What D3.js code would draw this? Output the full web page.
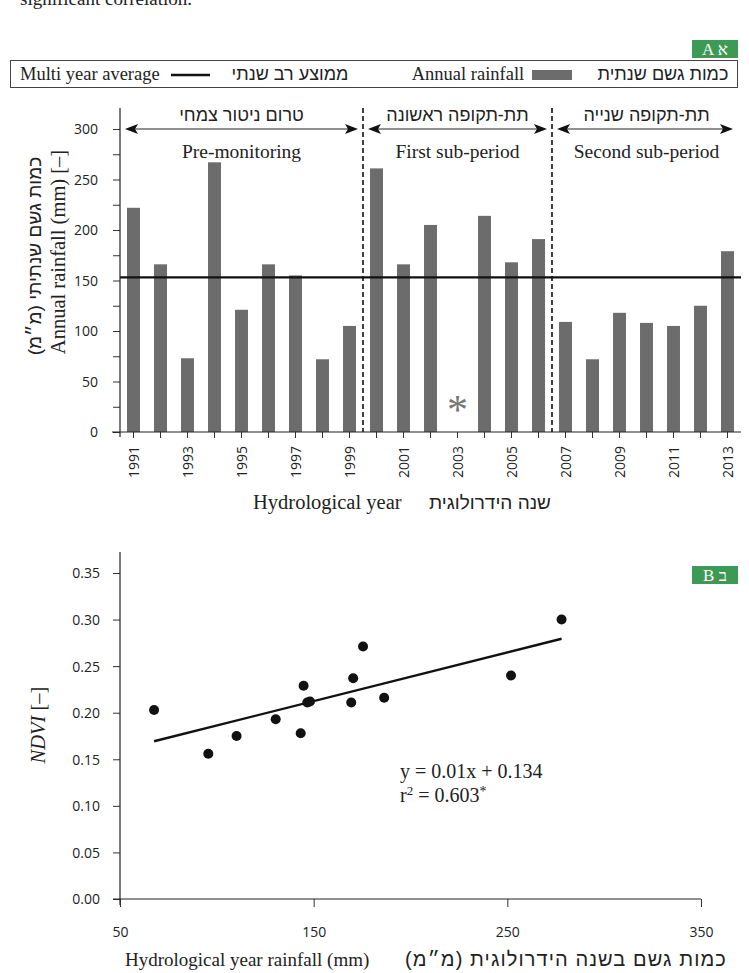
<!DOCTYPE html>
<html>
<head>
<meta charset="utf-8">
<script src="https://cdn.jsdelivr.net/npm/d3@7"></script>
<style>
body { margin: 0; background: #fff; }
svg { display: block; }
.serif { font-family: "Liberation Serif", "DejaVu Serif", serif; fill: #222; }
.heb { font-family: "Liberation Sans", "DejaVu Sans", sans-serif; fill: #222; direction: rtl; }
.tick-label { font-family: "Open Sans", "DejaVu Sans", sans-serif; font-size: 14px; fill: #222; }
</style>
</head>
<body>
<svg id="chart" width="749" height="973"></svg>
<script>
// panel A data
var years = [1991, 1992, 1993, 1994, 1995, 1996, 1997, 1998, 1999, 2000, 2001, 2002,
  2003, 2004, 2005, 2006, 2007, 2008, 2009, 2010, 2011, 2012, 2013];
var rainfall = [222, 166, 73, 267, 121, 166, 155, 72, 105, 261, 166, 205,
  null, 214, 168, 191, 109, 72, 118, 108, 105, 125, 179];
var multiYearAverage = 153;
var yearLabels = [1991, 1993, 1995, 1997, 1999, 2001, 2003, 2005, 2007, 2009, 2011, 2013];
var periodHe = ['טרום ניטור צמחי', 'תת-תקופה ראשונה', 'תת-תקופה שנייה'];
var periodEn = ['Pre-monitoring', 'First sub-period', 'Second sub-period'];
var periodStart = [1991, 2000, 2007];
var periodEnd = [1999, 2006, 2013];

// panel B data
var yearRain = [67.6, 95.6, 110.2, 130.4, 143.3, 144.8, 146.7, 148.1, 169.4, 170.4, 175.5, 186.4, 251.9, 278];
var ndvi = [0.203, 0.156, 0.175, 0.193, 0.178, 0.229, 0.211, 0.212, 0.211, 0.237, 0.271, 0.216, 0.240, 0.300];
var trendSlope = 0.000523, trendIntercept = 0.134;
var rainAxisTicks = [50, 150, 250, 350];
var ndviTicks = [0, 0.05, 0.10, 0.15, 0.20, 0.25, 0.30, 0.35];

var svg = d3.select('#chart');
var barColor = '#6c6c6c', badgeColor = '#3d9a55';

// caption tail cut off at the top
svg.append('text').attr('class', 'serif').attr('x', 20).attr('y', 5)
  .style('font-size', '19px').text('significant correlation.');

var badge = function(y, txt){
  svg.append('rect').attr('x', 692).attr('y', y).attr('width', 46).attr('height', 18).attr('fill', badgeColor);
  svg.append('text').attr('x', 715).attr('y', y + 14.5).attr('text-anchor', 'middle')
    .style('font-family', '"Liberation Serif", serif').style('font-size', '17px').attr('fill', '#fff')
    .text(txt);
};
badge(40, 'A  א');
badge(566, 'B  ב');

// legend
var lg = svg.append('g');
lg.append('rect').attr('x', 10.5).attr('y', 60.5).attr('width', 727).attr('height', 27)
  .attr('fill', 'none').attr('stroke', '#444').attr('stroke-width', 1);
lg.append('text').attr('class', 'serif').attr('x', 20).attr('y', 80).style('font-size', '18.5px').text('Multi year average');
lg.append('line').attr('x1', 171).attr('x2', 210).attr('y1', 75).attr('y2', 75).attr('stroke', '#111').attr('stroke-width', 2.5);
lg.append('text').attr('class', 'heb').attr('x', 290).attr('y', 80).attr('text-anchor', 'middle').style('font-size', '18px').text('ממוצע רב שנתי');
lg.append('text').attr('class', 'serif').attr('x', 468).attr('y', 80).attr('text-anchor', 'middle').style('font-size', '18.5px').text('Annual rainfall');
lg.append('rect').attr('x', 532).attr('y', 70).attr('width', 40).attr('height', 10).attr('fill', barColor);
lg.append('text').attr('class', 'heb').attr('x', 663).attr('y', 80).attr('text-anchor', 'middle').style('font-size', '18px').text('כמות גשם שנתית');

// ---------- panel A ----------
var xA = d3.scaleBand().domain(years).range([120, 741]).paddingInner(0.52).paddingOuter(0.26);
var yA = d3.scaleLinear().domain([0, 300]).range([432, 129]);
var stepA = xA.step();

var gA = svg.append('g');
gA.selectAll('rect.bar').data(years.map(function(y, i){ return {year: y, value: rainfall[i]}; })
  .filter(function(d){ return d.value != null; }))
  .enter().append('rect').attr('class', 'bar')
  .attr('x', function(d){ return xA(d.year); })
  .attr('y', function(d){ return yA(d.value); })
  .attr('width', xA.bandwidth())
  .attr('height', function(d){ return yA(0) - yA(d.value); })
  .attr('fill', barColor);

// missing year marker
years.forEach(function(y, i){
  if (rainfall[i] == null) {
    gA.append('text').attr('x', xA(y) + xA.bandwidth() / 2).attr('y', 424).attr('text-anchor', 'middle')
      .style('font-family', '"Liberation Serif", serif').style('font-size', '42px').attr('fill', '#777').text('*');
  }
});

// average line
gA.append('line').attr('x1', 120).attr('x2', 741).attr('y1', yA(multiYearAverage)).attr('y2', yA(multiYearAverage))
  .attr('stroke', '#111').attr('stroke-width', 2.2);

// y axis A
var yAxisA = d3.axisLeft(yA).tickValues(d3.range(0, 301, 25)).tickSize(7)
  .tickFormat(function(d){ return d % 50 === 0 ? d : ''; });
var gyA = gA.append('g').attr('transform', 'translate(120,0)').call(yAxisA);
gyA.select('.domain').remove();
gyA.selectAll('line').attr('stroke', '#333');
gyA.selectAll('text').attr('class', 'tick-label').attr('x', -22).attr('dy', '0.35em').style('font-family', null).style('font-size', null);
gA.append('line').attr('x1', 120).attr('x2', 120).attr('y1', 108).attr('y2', 437).attr('stroke', '#222').attr('stroke-width', 1.2);

// x axis A
var xAxisA = d3.axisBottom(xA).tickSize(6)
  .tickFormat(function(d){ return yearLabels.indexOf(d) >= 0 ? d : ''; });
var gxA = gA.append('g').attr('transform', 'translate(0,432)').call(xAxisA);
gxA.select('.domain').remove();
gxA.selectAll('line').attr('stroke', '#333');
gxA.selectAll('text').attr('class', 'tick-label').style('font-family', null).style('font-size', null)
  .attr('transform', 'rotate(-90)').attr('text-anchor', 'end').attr('x', -14).attr('y', 0).attr('dy', '0.36em');
gA.append('line').attr('x1', 112).attr('x2', 741).attr('y1', 432).attr('y2', 432).attr('stroke', '#222').attr('stroke-width', 1.2);

// period dividers and arrows
var pad = (stepA - xA.bandwidth()) / 2;
var arrowY = yA(300);
periodStart.forEach(function(s, i){
  var left = xA(s) - pad, right = xA(periodEnd[i]) + xA.bandwidth() + pad;
  if (i > 0) {
    gA.append('line').attr('x1', left).attr('x2', left).attr('y1', 108).attr('y2', 432)
      .attr('stroke', '#111').attr('stroke-width', 1.6).attr('stroke-dasharray', '5,3');
  }
  var a = left + 5, b = right - (i === 2 ? 8 : 5);
  gA.append('line').attr('x1', a + 8).attr('x2', b - 8).attr('y1', arrowY).attr('y2', arrowY).attr('stroke', '#222').attr('stroke-width', 1.2);
  gA.append('path').attr('d', 'M' + a + ',' + arrowY + 'l13,-5l-3,5l3,5z').attr('fill', '#111');
  gA.append('path').attr('d', 'M' + b + ',' + arrowY + 'l-13,-5l3,5l-3,5z').attr('fill', '#111');
  var mid = (left + right) / 2;
  gA.append('text').attr('class', 'heb').attr('x', mid).attr('y', 121).attr('text-anchor', 'middle')
    .style('font-size', '18px').text(periodHe[i]);
  gA.append('text').attr('class', 'serif').attr('x', mid).attr('y', 158).attr('text-anchor', 'middle')
    .style('font-size', '19.5px').text(periodEn[i]);
});

// axis titles A
gA.append('text').attr('class', 'heb').attr('transform', 'translate(41,256) rotate(-90)').attr('text-anchor', 'middle')
  .style('font-size', '19px').text('כמות גשם שנתיתי (מ״מ)');
gA.append('text').attr('class', 'serif').attr('transform', 'translate(65,252) rotate(-90)').attr('text-anchor', 'middle')
  .style('font-size', '20.5px').text('Annual rainfall (mm) [–]');
gA.append('text').attr('class', 'serif').attr('x', 253).attr('y', 509).style('font-size', '20.5px').text('Hydrological year');
gA.append('text').attr('class', 'heb').attr('x', 490).attr('y', 509).attr('text-anchor', 'middle').style('font-size', '19px').text('שנה הידרולוגית');

// ---------- panel B ----------
var xB = d3.scaleLinear().domain([50, 350]).range([120, 701]);
var yB = d3.scaleLinear().domain([0, 0.35]).range([899, 573]);
var gB = svg.append('g');

var yAxisB = d3.axisLeft(yB).tickValues(ndviTicks).tickSize(7).tickFormat(d3.format('.2f'));
var gyB = gB.append('g').attr('transform', 'translate(120,0)').call(yAxisB);
gyB.select('.domain').remove();
gyB.selectAll('line').attr('stroke', '#333');
gyB.selectAll('text').attr('class', 'tick-label').attr('x', -20).attr('dy', '0.35em').style('font-family', null).style('font-size', null);
gB.append('line').attr('x1', 120).attr('x2', 120).attr('y1', 552).attr('y2', 905).attr('stroke', '#222').attr('stroke-width', 1.2);

var xAxisB = d3.axisBottom(xB).tickValues(rainAxisTicks).tickSize(8).tickFormat(d3.format('d'));
var gxB = gB.append('g').attr('transform', 'translate(0,899)').call(xAxisB);
gxB.select('.domain').remove();
gxB.selectAll('line').attr('stroke', '#333');
gxB.selectAll('text').attr('class', 'tick-label').attr('y', 33).attr('dy', '0.35em').style('font-family', null).style('font-size', null);
gB.append('line').attr('x1', 113).attr('x2', 701).attr('y1', 899).attr('y2', 899).attr('stroke', '#222').attr('stroke-width', 1.2);

// trend line over data range
var xMin = d3.min(yearRain), xMax = d3.max(yearRain);
gB.append('line')
  .attr('x1', xB(xMin)).attr('y1', yB(trendIntercept + trendSlope * xMin))
  .attr('x2', xB(xMax)).attr('y2', yB(trendIntercept + trendSlope * xMax))
  .attr('stroke', '#111').attr('stroke-width', 2.4);

gB.selectAll('circle.pt').data(yearRain.map(function(r, i){ return {x: r, y: ndvi[i]}; }))
  .enter().append('circle').attr('class', 'pt')
  .attr('cx', function(d){ return xB(d.x); })
  .attr('cy', function(d){ return yB(d.y); })
  .attr('r', 5).attr('fill', '#111');

// equation
var eq = gB.append('text').attr('class', 'serif').attr('x', 400).attr('y', 778).style('font-size', '20px');
eq.text('y = 0.01x + 0.134');
var r2 = gB.append('text').attr('class', 'serif').attr('x', 400).attr('y', 802).style('font-size', '20px');
r2.append('tspan').text('r');
r2.append('tspan').attr('dy', -7).style('font-size', '13px').text('2');
r2.append('tspan').attr('dy', 7).text(' = 0.603');
r2.append('tspan').attr('dy', -6).style('font-size', '14px').text('*');

// axis titles B
var nd = gB.append('text').attr('class', 'serif').attr('transform', 'translate(45,725) rotate(-90)').attr('text-anchor', 'middle')
  .style('font-size', '20.5px');
nd.append('tspan').style('font-style', 'italic').text('NDVI');
nd.append('tspan').text(' [–]');
gB.append('text').attr('class', 'serif').attr('x', 125).attr('y', 966).style('font-size', '19px').text('Hydrological year rainfall (mm)');
gB.append('text').attr('class', 'heb').attr('x', 566).attr('y', 966).attr('text-anchor', 'middle').style('font-size', '20px')
  .style('letter-spacing', '1.1px').text('כמות גשם בשנה הידרולוגית (מ״מ)');
</script>
</body>
</html>
